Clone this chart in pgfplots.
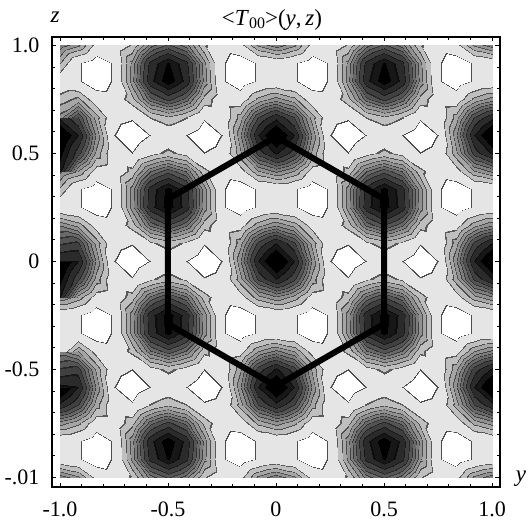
\documentclass[border=0pt]{standalone}
\usepackage{fontspec}
\setmainfont{Liberation Serif}
\usepackage{pgfplots}
\pgfplotsset{compat=1.18}
\begin{document}
\begin{tikzpicture}[x=1pt,y=1pt]
\path[use as bounding box] (-52,-33) rectangle (476,487);
\begin{axis}[
    scale only axis,
    width=448pt, height=450pt,
    anchor=south west, at={(0,0)},
    xmin=-1.037, xmax=1.037,
    ymin=-1.044, ymax=1.039,
    xtick={-1,-0.5,0,0.5,1},
    ytick={-1,-0.5,0,0.5,1},
    xticklabels={-1.0,-0.5,0,0.5,1.0},
    yticklabels={-.01,-0.5,0,0.5,1.0},
    minor tick num=4,
    tick align=inside,
    major tick length=4.5pt,
    minor tick length=3pt,
    tick style={black,line width=0.8pt},
    axis line style={line width=1.2pt},
    ticklabel style={font=\fontsize{22}{24}\selectfont},
    xticklabel style={yshift=-11pt},
    yticklabel style={xshift=-9pt},
    axis on top,
    point meta min=-2, point meta max=12,
    colormap={contours}{
      gray(0pt)=(1); gray(95pt)=(1); gray(96pt)=(.3); gray(104pt)=(.3);
      gray(105pt)=(.9); gray(289pt)=(.9); gray(290pt)=(.35); gray(310pt)=(.35);
      gray(311pt)=(.75); gray(409pt)=(.75); gray(410pt)=(.3); gray(430pt)=(.3);
      gray(431pt)=(.65); gray(509pt)=(.65); gray(510pt)=(.3); gray(530pt)=(.3);
      gray(531pt)=(.57); gray(599pt)=(.57); gray(600pt)=(.25); gray(620pt)=(.25);
      gray(621pt)=(.49); gray(679pt)=(.49); gray(680pt)=(.22); gray(700pt)=(.22);
      gray(701pt)=(.41); gray(759pt)=(.41); gray(760pt)=(.2); gray(780pt)=(.2);
      gray(781pt)=(.33); gray(849pt)=(.33); gray(850pt)=(.15); gray(870pt)=(.15);
      gray(871pt)=(.25); gray(959pt)=(.25); gray(960pt)=(.1); gray(980pt)=(.1);
      gray(981pt)=(.17); gray(1079pt)=(.17); gray(1080pt)=(.05); gray(1100pt)=(.05);
      gray(1101pt)=(.09); gray(1175pt)=(.09); gray(1176pt)=(0); gray(1400pt)=(0)
    },
]
\addplot[surf, shader=interp, mesh/rows=25, mesh/ordering=x varies, point meta=\thisrow{h}]
  table[row sep=\\, x expr={mod(\coordindex,25)/12-1}, y expr={floor(\coordindex/25)/12-1}, y index=0] {
h\\
4.67\\3.43\\0.40\\-0.20\\1.20\\4.50\\5.90\\4.50\\1.20\\-0.20\\0.40\\3.43\\4.67\\3.43\\0.40\\-0.20\\1.20\\4.50\\5.90\\4.50\\1.20\\-0.20\\0.40\\3.43\\4.67\\
-0.23\\-0.81\\-2.00\\-0.81\\3.54\\8.05\\9.91\\8.05\\3.54\\-0.81\\-2.00\\-0.81\\-0.23\\-0.81\\-2.00\\-0.81\\3.54\\8.05\\9.91\\8.05\\3.54\\-0.81\\-2.00\\-0.81\\-0.23\\
-0.44\\-0.81\\-2.00\\-0.81\\3.79\\8.52\\10.48\\8.52\\3.79\\-0.81\\-2.00\\-0.81\\-0.44\\-0.81\\-2.00\\-0.81\\3.79\\8.52\\10.48\\8.52\\3.79\\-0.81\\-2.00\\-0.81\\-0.44\\
3.63\\2.51\\-0.04\\-0.20\\1.84\\5.38\\6.96\\5.38\\1.84\\-0.20\\-0.04\\2.51\\3.63\\2.51\\-0.04\\-0.20\\1.84\\5.38\\6.96\\5.38\\1.84\\-0.20\\-0.04\\2.51\\3.63\\
8.53\\6.60\\2.66\\-0.40\\-0.78\\1.08\\2.06\\1.08\\-0.78\\-0.40\\2.66\\6.60\\8.53\\6.60\\2.66\\-0.40\\-0.78\\1.08\\2.06\\1.08\\-0.78\\-0.40\\2.66\\6.60\\8.53\\
11.31\\8.87\\3.97\\-0.96\\-2.00\\-0.96\\-0.30\\-0.96\\-2.00\\-0.96\\3.97\\8.87\\11.31\\8.87\\3.97\\-0.96\\-2.00\\-0.96\\-0.30\\-0.96\\-2.00\\-0.96\\3.97\\8.87\\11.31\\
9.08\\7.09\\2.97\\-0.40\\-0.97\\0.43\\1.36\\0.43\\-0.97\\-0.40\\2.97\\7.09\\9.08\\7.09\\2.97\\-0.40\\-0.97\\0.43\\1.36\\0.43\\-0.97\\-0.40\\2.97\\7.09\\9.08\\
4.33\\3.14\\0.33\\-0.20\\1.42\\4.80\\6.25\\4.80\\1.42\\-0.20\\0.33\\3.14\\4.33\\3.14\\0.33\\-0.20\\1.42\\4.80\\6.25\\4.80\\1.42\\-0.20\\0.33\\3.14\\4.33\\
-0.45\\-0.81\\-2.00\\-0.81\\3.63\\8.22\\10.10\\8.22\\3.63\\-0.81\\-2.00\\-0.81\\-0.45\\-0.81\\-2.00\\-0.81\\3.63\\8.22\\10.10\\8.22\\3.63\\-0.81\\-2.00\\-0.81\\-0.45\\
-0.43\\-0.81\\-2.00\\-0.81\\3.72\\8.38\\10.29\\8.38\\3.72\\-0.81\\-2.00\\-0.81\\-0.43\\-0.81\\-2.00\\-0.81\\3.72\\8.38\\10.29\\8.38\\3.72\\-0.81\\-2.00\\-0.81\\-0.43\\
3.98\\2.82\\0.33\\-0.20\\1.63\\5.10\\6.61\\5.10\\1.63\\-0.20\\0.33\\2.82\\3.98\\2.82\\0.33\\-0.20\\1.63\\5.10\\6.61\\5.10\\1.63\\-0.20\\0.33\\2.82\\3.98\\
8.88\\6.85\\2.82\\-0.40\\-0.89\\0.73\\1.68\\0.73\\-0.89\\-0.40\\2.82\\6.85\\8.88\\6.85\\2.82\\-0.40\\-0.89\\0.73\\1.68\\0.73\\-0.89\\-0.40\\2.82\\6.85\\8.88\\
11.50\\8.88\\3.98\\-0.96\\-2.00\\-0.96\\-0.30\\-0.96\\-2.00\\-0.96\\3.98\\8.88\\11.50\\8.88\\3.98\\-0.96\\-2.00\\-0.96\\-0.30\\-0.96\\-2.00\\-0.96\\3.98\\8.88\\11.50\\
8.88\\6.85\\2.82\\-0.40\\-0.89\\0.73\\1.68\\0.73\\-0.89\\-0.40\\2.82\\6.85\\8.88\\6.85\\2.82\\-0.40\\-0.89\\0.73\\1.68\\0.73\\-0.89\\-0.40\\2.82\\6.85\\8.88\\
3.98\\2.82\\0.33\\-0.20\\1.63\\5.10\\6.61\\5.10\\1.63\\-0.20\\0.33\\2.82\\3.98\\2.82\\0.33\\-0.20\\1.63\\5.10\\6.61\\5.10\\1.63\\-0.20\\0.33\\2.82\\3.98\\
-0.43\\-0.81\\-2.00\\-0.81\\3.72\\8.38\\10.29\\8.38\\3.72\\-0.81\\-2.00\\-0.81\\-0.43\\-0.81\\-2.00\\-0.81\\3.72\\8.38\\10.29\\8.38\\3.72\\-0.81\\-2.00\\-0.81\\-0.43\\
-0.45\\-0.81\\-2.00\\-0.81\\3.63\\8.22\\10.10\\8.22\\3.63\\-0.81\\-2.00\\-0.81\\-0.45\\-0.81\\-2.00\\-0.81\\3.63\\8.22\\10.10\\8.22\\3.63\\-0.81\\-2.00\\-0.81\\-0.45\\
4.33\\3.14\\0.33\\-0.20\\1.42\\4.80\\6.25\\4.80\\1.42\\-0.20\\0.33\\3.14\\4.33\\3.14\\0.33\\-0.20\\1.42\\4.80\\6.25\\4.80\\1.42\\-0.20\\0.33\\3.14\\4.33\\
9.08\\7.09\\2.97\\-0.40\\-0.97\\0.43\\1.36\\0.43\\-0.97\\-0.40\\2.97\\7.09\\9.08\\7.09\\2.97\\-0.40\\-0.97\\0.43\\1.36\\0.43\\-0.97\\-0.40\\2.97\\7.09\\9.08\\
11.31\\8.87\\3.97\\-0.96\\-2.00\\-0.96\\-0.30\\-0.96\\-2.00\\-0.96\\3.97\\8.87\\11.31\\8.87\\3.97\\-0.96\\-2.00\\-0.96\\-0.30\\-0.96\\-2.00\\-0.96\\3.97\\8.87\\11.31\\
8.53\\6.60\\2.66\\-0.40\\-0.78\\1.08\\2.06\\1.08\\-0.78\\-0.40\\2.66\\6.60\\8.53\\6.60\\2.66\\-0.40\\-0.78\\1.08\\2.06\\1.08\\-0.78\\-0.40\\2.66\\6.60\\8.53\\
3.63\\2.51\\-0.04\\-0.20\\1.84\\5.38\\6.96\\5.38\\1.84\\-0.20\\-0.04\\2.51\\3.63\\2.51\\-0.04\\-0.20\\1.84\\5.38\\6.96\\5.38\\1.84\\-0.20\\-0.04\\2.51\\3.63\\
-0.44\\-0.81\\-2.00\\-0.81\\3.79\\8.52\\10.48\\8.52\\3.79\\-0.81\\-2.00\\-0.81\\-0.44\\-0.81\\-2.00\\-0.81\\3.79\\8.52\\10.48\\8.52\\3.79\\-0.81\\-2.00\\-0.81\\-0.44\\
-0.23\\-0.81\\-2.00\\-0.81\\3.54\\8.05\\9.91\\8.05\\3.54\\-0.81\\-2.00\\-0.81\\-0.23\\-0.81\\-2.00\\-0.81\\3.54\\8.05\\9.91\\8.05\\3.54\\-0.81\\-2.00\\-0.81\\-0.23\\
4.67\\3.43\\0.40\\-0.20\\1.20\\4.50\\5.90\\4.50\\1.20\\-0.20\\0.40\\3.43\\4.67\\3.43\\0.40\\-0.20\\1.20\\4.50\\5.90\\4.50\\1.20\\-0.20\\0.40\\3.43\\4.67\\
};
% the hexagon
\addplot[black, line width=6pt, mark=none, line join=miter]
  coordinates {(0,0.577) (0.5,0.289) (0.5,-0.289) (0,-0.577) (-0.5,-0.289) (-0.5,0.289)} --cycle;
\end{axis}
\node[font=\fontsize{23}{24}\selectfont] at (220,467) {<\textit{T}\raisebox{-3pt}{\fontsize{16}{17}\selectfont 00}>(\textit{y},\,\textit{z})};
\node[font=\fontsize{23}{24}\selectfont\itshape] at (3,470) {z};
\node[font=\fontsize{23}{24}\selectfont\itshape] at (469,8) {y};
\end{tikzpicture}
\end{document}
